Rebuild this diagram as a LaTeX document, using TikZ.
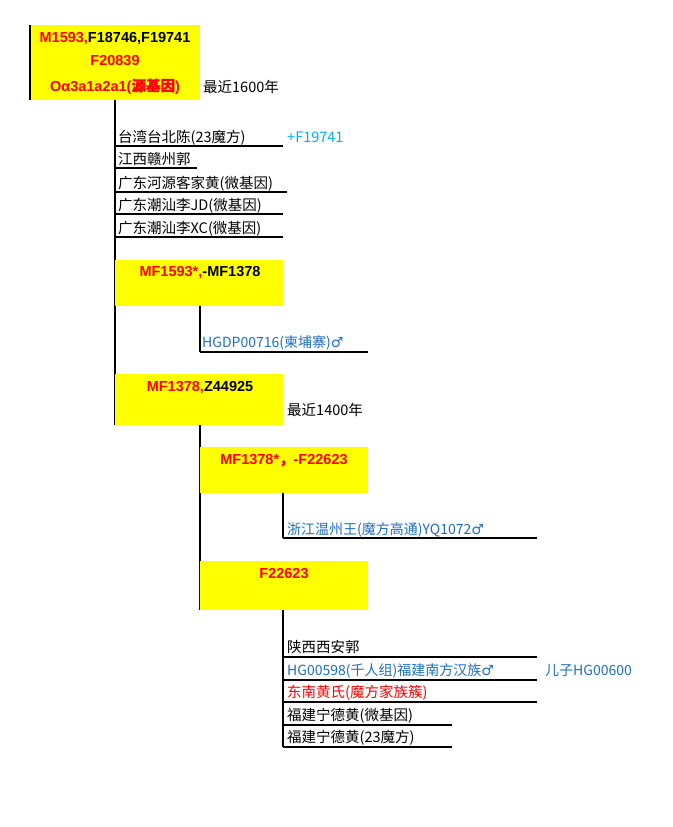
\documentclass[tikz,border=0pt]{standalone}
\usepackage{fontspec}
\setmainfont{Liberation Sans}
\newfontfamily\cjk{Noto Sans CJK SC}
\newfontfamily\cjkb{Noto Sans CJK SC}[FakeBold=1]
\newfontfamily\dv{DejaVu Sans}
\definecolor{ylw}{RGB}{255,255,0}
\definecolor{rd}{RGB}{255,0,0}
\definecolor{bl}{RGB}{30,110,190}
\definecolor{cy}{RGB}{0,176,240}
\begin{document}
\begin{tikzpicture}[x=1pt,y=-1pt,
  box/.style={fill=ylw,draw=none},
  bt/.style={font=\bfseries\fontsize{14.5}{16}\selectfont,inner sep=0pt,anchor=base},
  it/.style={font=\cjk\fontsize{14.5}{16}\selectfont,inner sep=0pt,anchor=base west},
  bt2/.style={font=\cjk\fontsize{14.5}{16}\selectfont,inner sep=0pt,anchor=base west},
  ln/.style={line width=1.1pt,black},
  ul/.style={line width=1.1pt,black}]
\useasboundingbox (0,0) rectangle (672,827);
% box 1
\fill[box] (30,25) rectangle (200,100);
\draw[ln] (30,25) -- (30,100);
\node[bt] (b1a) at (115,42) {\color{rd}M1593,\color{black}F18746,F19741};
\node[bt] (b1b) at (115,65) {\color{rd}F20839};
\node[bt] (b1c) at (115,91) {\color{rd}Oα3a1a2a1({\cjkb 源基因})};
\node[it] (t16) at (203,92) {最近1600年};
\draw[ln] (115,100) -- (115,425);
\node[it] (i1) at (118,142) {台湾台北陈(23魔方)};
\draw[ul] (115,146) -- (283,146);
\node[it,text=cy] (i1b) at (287,142) {+F19741};
\node[it] (i2) at (118,164) {江西赣州郭};
\draw[ul] (115,168) -- (197,168);
\node[it] (i3) at (118,188) {广东河源客家黄(微基因)};
\draw[ul] (115,192) -- (287,192);
\node[it] (i4) at (118,210) {广东潮汕李JD(微基因)};
\draw[ul] (115,214) -- (283,214);
\node[it] (i5) at (118,233) {广东潮汕李XC(微基因)};
\draw[ul] (115,237) -- (283,237);
% box 2
\fill[box] (115,260) rectangle (283,306);
\node[bt] (b2) at (200,276) {\color{rd}MF1593*,\color{black}-MF1378};
\draw[ln] (200,306) -- (200,352);
\node[it,text=bl,font=\cjk\fontsize{14}{16}\selectfont] (h1) at (202,347) {HGDP00716(柬埔寨){\dv ♂}};
\draw[ul] (200,352) -- (368,352);
% box 3
\fill[box] (115,374) rectangle (283,425);
\node[bt] (b3) at (200,391) {\color{rd}MF1378,\color{black}Z44925};
\node[it] (t14) at (287,415) {最近1400年};
\draw[ln] (200,425) -- (200,610);
% box 4
\fill[box] (200,447) rectangle (368,493);
\node[bt] (b4) at (284,464) {\color{rd}MF1378*{\cjkb ，}-F22623};
\draw[ln] (283,493) -- (283,538);
\node[it,text=bl,font=\cjk\fontsize{14}{16}\selectfont] (z1) at (287,534) {浙江温州王(魔方高通)YQ1072{\dv ♂}};
\draw[ul] (283,538) -- (537,538);
% box 5
\fill[box] (200,561) rectangle (368,610);
\node[bt] (b5) at (284,578) {\color{rd}F22623};
\draw[ln] (283,610) -- (283,747);
\node[it] (s1) at (287,652) {陕西西安郭};
\draw[ul] (283,657) -- (537,657);
\node[it,text=bl,font=\cjk\fontsize{14}{16}\selectfont] (s2) at (287,675) {HG00598(千人组)福建南方汉族{\dv ♂}};
\node[it,text=bl,font=\cjk\fontsize{14}{16}\selectfont] (s2b) at (545,675) {儿子HG00600};
\draw[ul] (283,680) -- (537,680);
\node[it,text=rd] (s3) at (287,697) {东南黄氏(魔方家族簇)};
\draw[ul] (283,702) -- (537,702);
\node[it] (s4) at (287,720) {福建宁德黄(微基因)};
\draw[ul] (283,725) -- (452,725);
\node[it] (s5) at (287,742) {福建宁德黄(23魔方)};
\draw[ul] (283,747) -- (452,747);
\end{tikzpicture}
\end{document}
